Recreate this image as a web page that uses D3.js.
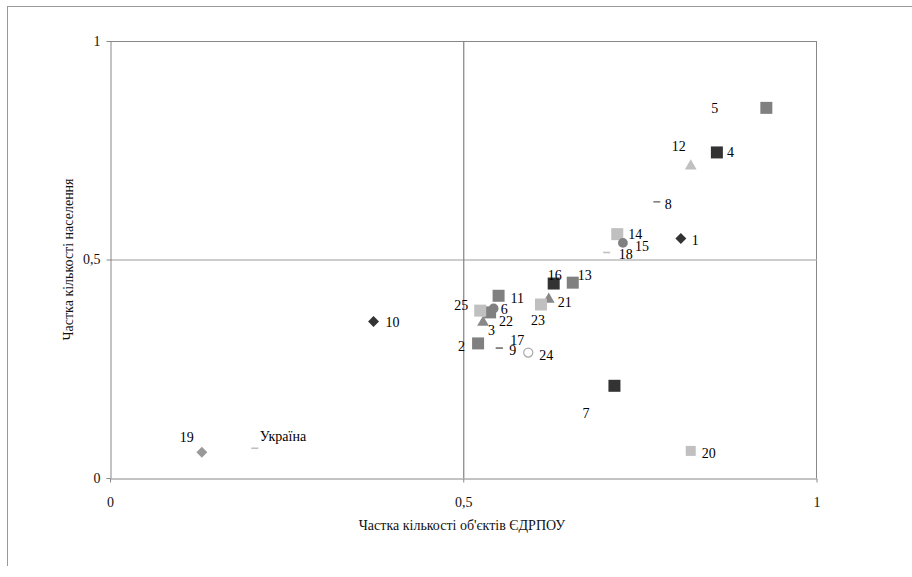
<!DOCTYPE html>
<html><head><meta charset="utf-8">
<script src="https://cdn.jsdelivr.net/npm/d3@7"></script>
<style>body{margin:0;background:#fff}svg{display:block}</style>
</head><body>
<script>
const labels = ["1","2","3","4","5","6","7","8","9","10","11","12","13","14","15","16","17","18","19","20","21","22","23","24","25","Україна"];
const xValues = [0.808,0.521,0.528,0.859,0.929,0.543,0.714,0.774,0.551,0.373,0.550,0.822,0.655,0.718,0.726,0.628,0.551,0.703,0.130,0.822,0.621,0.538,0.610,0.592,0.524,0.205];
const yValues = [0.548,0.308,0.356,0.745,0.847,0.388,0.211,0.632,0.297,0.358,0.417,0.714,0.447,0.558,0.538,0.445,0.297,0.516,0.059,0.062,0.409,0.379,0.397,0.287,0.383,0.068];
const markerKinds = ["diamondDark","squareMid","triangleMid","squareDark","squareMid","circleMid","squareDark","dashMid","dashMid","diamondDark","squareMid","triangleLight","squareMid","squareLight","circleMid","squareDark","dashMid","dashLight","diamondGray","squareLight","triangleMid","squareMid","squareLight","circleOpen","squareLight","dashLight"];
const xTicks = [0, 0.5, 1];
const yTicks = [0, 0.5, 1];
const xTitle = "Частка кількості об'єктів ЄДРПОУ";
const yTitle = "Частка кількості населення";

const W = 912, H = 577;
const svg = d3.select("body").append("svg").attr("width", W).attr("height", H);
const font = "'Liberation Serif','Times New Roman',serif";

// outer frame
svg.append("line").attr("x1",7.5).attr("x2",7.5).attr("y1",6).attr("y2",566).attr("stroke","#999");
svg.append("line").attr("x1",7).attr("x2",W).attr("y1",6.5).attr("y2",6.5).attr("stroke","#999");

const x = d3.scaleLinear().domain([0,1]).range([110, 816.5]);
const y = d3.scaleLinear().domain([0,1]).range([478, 41]);
const fmt = d => d === 0.5 ? "0,5" : String(d);

// plot border top/right
svg.append("line").attr("x1",x(0)).attr("x2",x(1)).attr("y1",y(1)+0.5).attr("y2",y(1)+0.5).attr("stroke","#888");
svg.append("line").attr("x1",x(1)).attr("x2",x(1)).attr("y1",y(1)).attr("y2",y(0)).attr("stroke","#888");
// 0.5 lines
svg.append("line").attr("x1",x(0)).attr("x2",x(1)).attr("y1",y(0.5)+0.5).attr("y2",y(0.5)+0.5).attr("stroke","#bdbdbd").attr("stroke-width",1.5);
svg.append("line").attr("x1",x(0.5)+0.5).attr("x2",x(0.5)+0.5).attr("y1",y(1)).attr("y2",y(0)).attr("stroke","#808080").attr("stroke-width",1.2);

const xAxis = svg.append("g").attr("transform",`translate(0,${y(0)+0.5})`)
  .call(d3.axisBottom(x).tickValues(xTicks).tickFormat(fmt).tickSize(4).tickSizeOuter(0));
const yAxis = svg.append("g").attr("transform",`translate(${x(0)+0.5},0)`)
  .call(d3.axisLeft(y).tickValues(yTicks).tickFormat(fmt).tickSize(4).tickSizeOuter(0));
[xAxis,yAxis].forEach(a=>{
  a.selectAll("path,line").attr("stroke","#888");
  a.selectAll("text").attr("fill","#111").style("font-family",font).style("font-size","14px");
});
xAxis.selectAll("text").attr("dy","0").attr("y",28);
yAxis.selectAll("text").attr("x",-10);

svg.append("text").attr("x",462).attr("y",530).attr("text-anchor","middle")
  .style("font-family",font).style("font-size","14px").attr("fill","#111").text(xTitle);
svg.append("text").attr("transform",`translate(73,${y(0.5)}) rotate(-90)`).attr("text-anchor","middle")
  .style("font-family",font).style("font-size","14px").attr("fill","#111").text(yTitle);

const styles = {
  diamondDark:{shape:"diamond",fill:"#333"}, diamondGray:{shape:"diamond",fill:"#999"},
  squareDark:{shape:"square",fill:"#333"}, squareMid:{shape:"square",fill:"#808080"}, squareLight:{shape:"square",fill:"#c0c0c0"},
  triangleMid:{shape:"triangle",fill:"#888"}, triangleLight:{shape:"triangle",fill:"#c0c0c0"},
  circleMid:{shape:"circle",fill:"#808080"}, circleOpen:{shape:"open",fill:"#fff"},
  dashMid:{shape:"dash",fill:"#808080"}, dashLight:{shape:"dash",fill:"#c0c0c0"}
};
const sym = {
  diamond: d3.symbol().type(d3.symbolSquare).size(60),
  triangle: d3.symbol().type(d3.symbolTriangle).size(60),
  circle: d3.symbol().type(d3.symbolCircle).size(75),
  open: d3.symbol().type(d3.symbolCircle).size(65)
};
const data = labels.map((l,i)=>({l, x:xValues[i], y:yValues[i], k:markerKinds[i]}));
const g = svg.append("g");
data.forEach(d=>{
  const st = styles[d.k], cx = x(d.x), cy = y(d.y);
  if (st.shape==="square") {
    const s = d.l==="20" ? 10 : 12;
    g.append("rect").attr("x",cx-s/2).attr("y",cy-s/2).attr("width",s).attr("height",s).attr("fill",st.fill);
  } else if (st.shape==="dash") {
    g.append("rect").attr("x",cx-3.5).attr("y",cy-0.8).attr("width",7).attr("height",1.6).attr("fill",st.fill);
  } else if (st.shape==="diamond") {
    g.append("path").attr("d",sym.diamond()).attr("transform",`translate(${cx},${cy}) rotate(45)`).attr("fill",st.fill);
  } else if (st.shape==="open") {
    g.append("path").attr("d",sym.open()).attr("transform",`translate(${cx},${cy})`).attr("fill","#fff").attr("stroke","#aaa").attr("stroke-width",1.2);
  } else {
    g.append("path").attr("d",sym[st.shape]()).attr("transform",`translate(${cx},${cy})`).attr("fill",st.fill);
  }
});
// label offsets (dx, dy) from marker centre to label start/baseline
const off = {
  "1":[11,6],"2":[-20,8],"3":[5,13],"4":[10,5],"5":[-55,5],
  "6":[7,6],"7":[-32,32],"8":[8,7],"9":[10,7],"10":[12,5],
  "11":[12,7],"12":[-19,-15],"13":[5,-3],"14":[11,5],"15":[12,8],
  "16":[-6,-4],"17":[11,-3],"18":[12,6],"19":[-22,-10],"20":[11,7],
  "21":[9,8],"22":[9,14],"23":[-10,20],"24":[11,7],"25":[-26,-1],
  "Україна":[5,-7]
};
data.forEach(d=>{
  const o = off[d.l];
  g.append("text").attr("x",x(d.x)+o[0]).attr("y",y(d.y)+o[1])
    .style("font-family",font).style("font-size","14px").attr("fill","#000").text(d.l);
});
</script>
</body></html>
